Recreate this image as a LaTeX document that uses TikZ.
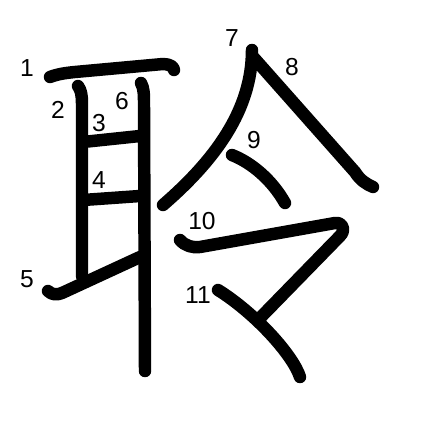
\documentclass[tikz,border=0pt]{standalone}
\usepackage{fontspec}
\setmainfont{Liberation Sans}
\usetikzlibrary{positioning}
\tikzset{
  every picture/.style={line cap=round, line join=round},
  px/.style={x=0.02cm, y=-0.02cm},
  % brush stroke of the character
  brush/.style={line width=7.1pt, black},
  % stroke order number
  num/.style={font=\fontsize{14}{16}\selectfont, inner sep=0pt},
}

\begin{document}
\begin{tikzpicture}[px]
  \useasboundingbox (0,0) rectangle (447,447);
  % ear radical
  \draw[brush] (50,77) .. controls (58,74) and (65,73) .. (75,72) -- (163,64) .. controls (170,64) and (174,67) .. (174,70);
  \draw[brush] (78,86) .. controls (81,90) and (82,95) .. (82,104) -- (82,276);
  \draw[brush] (83,142) -- (140,136);
  \draw[brush] (83,200) -- (140,196);
  \draw[brush] (48,291) .. controls (52,295) and (57,295) .. (62,293) -- (140,257);
  \draw[brush] (141,83) .. controls (144,88) and (144,95) .. (144,104) -- (145,371);
  % ling
  \draw[brush] (252,50) .. controls (252,110) and (215,160) .. (163,205);
  \draw[brush] (254,58) -- (355,172) .. controls (360,180) and (366,184) .. (373,187);
  \draw[brush] (232,155) .. controls (252,163) and (272,180) .. (285,203);
  \draw[brush] (180,240) .. controls (185,246) and (193,248) .. (200,247) -- (335,223) .. controls (343,222) and (346,230) .. (340,236) -- (260,318);
  \draw[brush] (218,290) .. controls (255,313) and (293,355) .. (300,377);
  % stroke numbers
  \foreach \n/\x/\y in {1/27/68, 2/58/110, 3/99/123, 4/99/180, 5/27/279, 6/122/101,
                        7/232/38, 8/292/67, 9/254/140, 10/202/221, 11/198/295}
    \node[num] (n\n) at (\x,\y) {\n};
\end{tikzpicture}
\end{document}
